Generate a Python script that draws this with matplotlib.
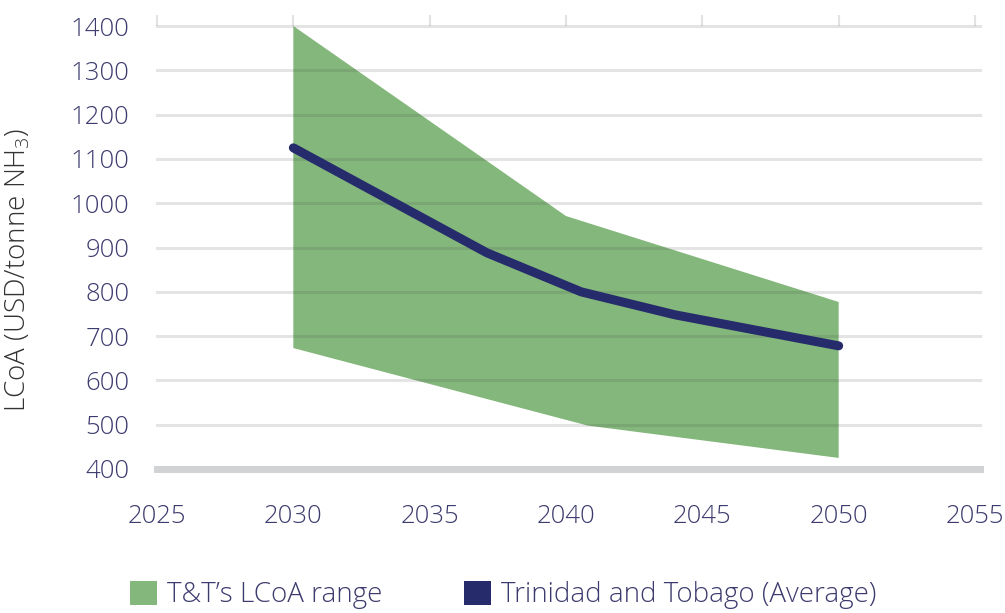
import matplotlib
matplotlib.use("Agg")
import matplotlib.pyplot as plt
from matplotlib.patches import Patch
import numpy as np

# Data
upper_years = [2030, 2040, 2050]
upper_vals = [1400, 971, 777]
lower_years = [2030, 2040.8, 2050]
lower_vals = [673, 498, 425]
avg_years = [2030, 2037.1, 2040.55, 2044.0, 2050]
avg_vals = [1125, 888, 800, 748, 678]
x_ticks = [2025, 2030, 2035, 2040, 2045, 2050, 2055]
y_ticks = [400, 500, 600, 700, 800, 900, 1000, 1100, 1200, 1300, 1400]
legend_labels = ["T\u0026T\u2019s LCoA range", "Trinidad and Tobago (Average)"]

FONT = ["Open Sans", "DejaVu Sans"]
plt.rcParams['font.family'] = FONT
plt.rcParams['mathtext.fontset'] = 'custom'
plt.rcParams['mathtext.rm'] = 'Open Sans'

GREEN = "#84b77b"
NAVY = "#262c6b"
TICKC = "#3d3b6e"

fig = plt.figure(figsize=(10.05, 6.13), dpi=100)
ax = fig.add_axes([157/1005, 1-469/613, 818/1005, 443/613])

poly_x = np.concatenate([upper_years, lower_years[::-1]])
poly_y = np.concatenate([upper_vals, lower_vals[::-1]])
ax.fill(poly_x, poly_y, color=GREEN, lw=0, zorder=1)

for v in y_ticks[1:]:
    ax.axhline(v, color="#444444", alpha=0.14, lw=2.2, zorder=2, xmax=1.006, clip_on=False)
ax.axhline(400, color="#d1d2d4", lw=5, zorder=2, xmax=1.006, clip_on=False)

ax.plot(avg_years, avg_vals, color=NAVY, lw=6.5, solid_capstyle='round',
        solid_joinstyle='round', zorder=3)

ax.set_xlim(2025, 2055)
ax.set_ylim(400, 1400)
ax.set_xticks(x_ticks)
ax.set_yticks(y_ticks)
for s in ax.spines.values():
    s.set_visible(False)

ax.tick_params(axis='x', which='both', top=True, bottom=False, labeltop=False,
               labelbottom=True, length=8, width=1.5, color="#e3e3e3",
               pad=17, labelsize=18.5, labelcolor=TICKC)
ax.tick_params(axis='y', length=0, pad=20, labelsize=18.5, labelcolor=TICKC)
for lab in ax.get_xticklabels() + ax.get_yticklabels():
    lab.set_fontweight('light')

ax.set_ylabel(r"LCoA (USD/tonne NH$\mathregular{_3}$)", fontsize=20,
              color="#333333", fontweight='light')
ax.yaxis.set_label_coords(-0.152, 0.449)

handles = [Patch(facecolor=GREEN, edgecolor='none'), Patch(facecolor=NAVY, edgecolor='none')]
leg = fig.legend(handles, legend_labels, loc='center left',
                 bbox_to_anchor=(130/1005, 1-595/613), ncol=2, frameon=False,
                 fontsize=20, handlelength=0.97, handleheight=0.97,
                 handletextpad=0.35, columnspacing=2.95, borderpad=0, borderaxespad=0)
for t in leg.get_texts():
    t.set_color(TICKC)
    t.set_fontweight('light')

fig.savefig("out.png", dpi=100)
